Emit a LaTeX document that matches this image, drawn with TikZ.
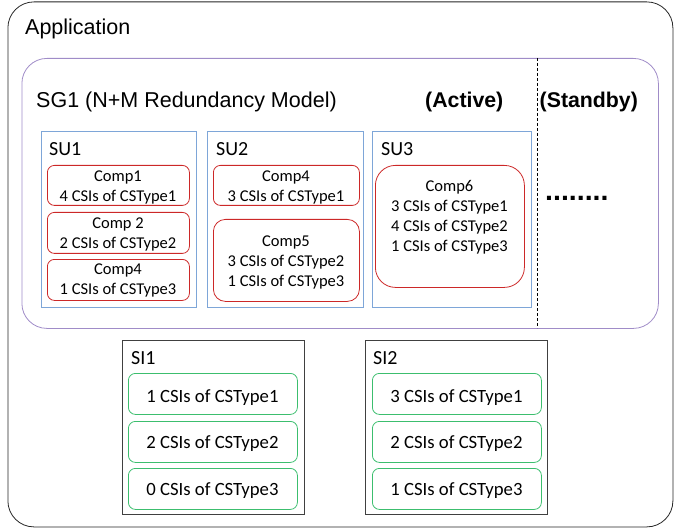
\documentclass[tikz,border=0pt]{standalone}
\usepackage{fontspec}
\setmainfont{Liberation Sans}
\newfontfamily\calfont{Carlito}
\definecolor{sgpurple}{RGB}{160,140,200}
\definecolor{sublue}{RGB}{126,166,216}
\definecolor{compred}{RGB}{204,40,40}
\definecolor{csigreen}{RGB}{60,190,110}
\definecolor{sigray}{RGB}{64,64,64}
\tikzset{
  bx/.style={anchor=north west, inner sep=0pt, line width=0.8pt},
  appbox/.style={bx, draw=black!85, rounded corners=26pt},
  sgbox/.style={bx, draw=sgpurple, rounded corners=25pt},
  subox/.style={bx, draw=sublue},
  compbox/.style={bx, draw=compred, rounded corners=7pt},
  sibox/.style={bx, draw=sigray},
  csibox/.style={bx, draw=csigreen, rounded corners=7pt},
  bigtxt/.style={inner sep=0pt, anchor=base west, font=\fontsize{21.5}{25}\selectfont},
  boldtxt/.style={bigtxt, font=\fontsize{21.3}{25}\selectfont\bfseries},
  lbl/.style={inner sep=0pt, anchor=base west, font=\calfont\fontsize{20}{24}\selectfont},
  comptxt/.style={inner sep=0pt, align=center, font=\calfont\fontsize{16.5}{20}\selectfont},
  csitxt/.style={inner sep=0pt, anchor=base, font=\calfont\fontsize{18.7}{22}\selectfont},
}
\begin{document}
\begin{tikzpicture}[x=1pt,y=-1pt]
\useasboundingbox (0,0) rectangle (674,529);
% containers
\node[appbox, minimum width=665pt, minimum height=525pt] (app) at (7.5,1.5) {};
\node[sgbox, minimum width=636.5pt, minimum height=270pt] (sg) at (21.5,58) {};
\coordinate (dtop) at (537,58);
\coordinate (dbot) at (537,328);
\draw[line width=0.6pt, dash pattern=on 3pt off 2pt] (dtop) -- (dbot);
\node[bigtxt] (apptxt) at (25,35) {Application};
\node[bigtxt] (sgtxt) at (36,107.5) {SG1 (N+M Redundancy Model)};
\node[boldtxt] (active) at (425,108) {(Active)};
\node[boldtxt] (standby) at (539.5,108) {(Standby)};
\node[inner sep=0pt, anchor=base west, font=\fontsize{28.5}{30}\selectfont\bfseries] (dots) at (545,200.5) {........};
% SUs
\node[subox, minimum width=155pt, minimum height=176pt] (su1) at (41,131) {};
\node[subox, minimum width=156pt, minimum height=176pt] (su2) at (207,131) {};
\node[subox, minimum width=159pt, minimum height=176pt] (su3) at (372,131) {};
\node[lbl] (su1t) at (49,156) {SU1};
\node[lbl] (su2t) at (216,156) {SU2};
\node[lbl] (su3t) at (381,156) {SU3};
% components
\node[compbox, minimum width=142pt, minimum height=40pt] (c11) at (47,165) {};
\node[compbox, minimum width=142pt, minimum height=41pt] (c12) at (47,212) {};
\node[compbox, minimum width=142pt, minimum height=41pt] (c13) at (47,259) {};
\node[compbox, minimum width=146pt, minimum height=40pt] (c21) at (213,165) {};
\node[compbox, rounded corners=12pt, minimum width=146pt, minimum height=82pt] (c22) at (213,219) {};
\node[compbox, rounded corners=20pt, minimum width=149pt, minimum height=122pt] (c31) at (375,165) {};
\node[comptxt] (c11t) at (118,187) {Comp1\\4 CSIs of CSType1};
\node[comptxt] (c12t) at (118,234) {Comp 2\\2 CSIs of CSType2};
\node[comptxt] (c13t) at (118,280) {Comp4\\1 CSIs of CSType3};
\node[comptxt] (c21t) at (286,187) {Comp4\\3 CSIs of CSType1};
\node[comptxt] (c22t) at (286,262) {Comp5\\3 CSIs of CSType2\\1 CSIs of CSType3};
\node[comptxt] (c31t) at (449.5,217) {Comp6\\3 CSIs of CSType1\\4 CSIs of CSType2\\1 CSIs of CSType3};
% SIs
\node[sibox, minimum width=182pt, minimum height=174pt] (si1) at (122,340) {};
\node[sibox, minimum width=182pt, minimum height=174pt] (si2) at (365,340) {};
\node[lbl] (si1t) at (131,364) {SI1};
\node[lbl] (si2t) at (373,364) {SI2};
\node[csibox, minimum width=169pt, minimum height=41pt] (g11) at (128,373) {};
\node[csibox, minimum width=169pt, minimum height=41pt] (g12) at (128,421) {};
\node[csibox, minimum width=169pt, minimum height=41pt] (g13) at (128,468) {};
\node[csibox, minimum width=169pt, minimum height=41pt] (g21) at (372,373) {};
\node[csibox, minimum width=169pt, minimum height=41pt] (g22) at (372,421) {};
\node[csibox, minimum width=169pt, minimum height=41pt] (g23) at (372,468) {};
\node[csitxt] (g11t) at (212.5,402) {1 CSIs of CSType1};
\node[csitxt] (g12t) at (212.5,448) {2 CSIs of CSType2};
\node[csitxt] (g13t) at (212.5,495) {0 CSIs of CSType3};
\node[csitxt] (g21t) at (456.5,402) {3 CSIs of CSType1};
\node[csitxt] (g22t) at (456.5,448) {2 CSIs of CSType2};
\node[csitxt] (g23t) at (456.5,495) {1 CSIs of CSType3};
\end{tikzpicture}
\end{document}
